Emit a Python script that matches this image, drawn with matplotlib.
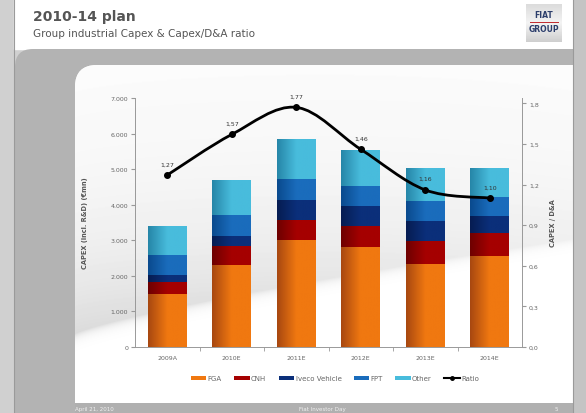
import numpy as np
import matplotlib
matplotlib.use("Agg")
import matplotlib.pyplot as plt
from matplotlib.patches import Rectangle, FancyBboxPatch, PathPatch, Patch
from matplotlib.path import Path
from matplotlib.lines import Line2D
from matplotlib.colors import LinearSegmentedColormap
from matplotlib.ticker import FuncFormatter, FixedLocator

# data (EUR mn)
years = ["2009A", "2010E", "2011E", "2012E", "2013E", "2014E"]
fga = [1490, 2300, 3010, 2810, 2330, 2560]
cnh = [330, 530, 560, 600, 640, 640]
iveco = [210, 280, 560, 550, 580, 470]
fpt = [560, 600, 590, 580, 560, 560]
other = [800, 990, 1130, 1010, 910, 790]
ratio = [1.27, 1.57, 1.77, 1.46, 1.16, 1.10]

series = [("FGA", fga, "#a84810", "#f07810"),
          ("CNH", cnh, "#6e0000", "#a50000"),
          ("Iveco Vehicle", iveco, "#061c52", "#0b2f7a"),
          ("FPT", fpt, "#0a4a8e", "#1a6cbc"),
          ("Other", other, "#2686a8", "#48bcdc")]

W, H = 586, 414
fig = plt.figure(figsize=(W / 100, H / 100), dpi=100)

# ---- slide background (pixel coords) ----
bg = fig.add_axes([0, 0, 1, 1], zorder=0)
bg.set_xlim(0, W)
bg.set_ylim(H, 0)
bg.axis("off")
bg.add_patch(Rectangle((0, 0), W, H, color="#d0d0d0"))
bg.add_patch(Rectangle((14, 0), 559, 50, color="white"))
bg.add_patch(FancyBboxPatch((15, 50), 600, 400, boxstyle="round,pad=0,rounding_size=18",
                            color="#b3b3b3", lw=0))
bg.add_patch(Rectangle((100, 50), 473, 364, color="#b3b3b3", lw=0))
panel = FancyBboxPatch((75, 66), 600, 400, boxstyle="round,pad=0,rounding_size=22",
                       color="white", lw=0)
bg.add_patch(panel)

# soft grey swoosh behind the chart
X, Y = np.meshgrid(np.arange(75, 573) + 0.5, np.arange(66, 404) + 0.5)
yb = 335 - 95 * ((X - 75) / 498) ** 0.8
d = yb - Y
k = 0.14 - 0.08 * (X - 75) / 498
dark = np.where(d > 0, k * np.exp(-d / 110), k * np.exp(d / 5))
shade = bg.imshow(1 - dark, extent=[75, 573, 404, 66], cmap="gray", vmin=0, vmax=1,
                  aspect="auto", interpolation="bilinear", zorder=1)
shade.set_clip_path(panel)

bg.add_patch(Rectangle((75, 404), 498, 10, color="#b0b0b0", lw=0, zorder=2))
bg.add_patch(Rectangle((573, 0), 13, H, color="#c4c4c4", lw=0, zorder=2))
bg.axvline(14, color="#9a9a9a", lw=0.8, zorder=2)
bg.axvline(573, color="#9a9a9a", lw=0.8, zorder=2)

# header
bg.text(33, 17, "2010-14 plan", fontsize=10, fontweight="bold", color="#555555", va="center")
bg.text(33, 34, "Group industrial Capex & Capex/D&A ratio", fontsize=7.5, color="#555555", va="center")
logo_grad = np.linspace(0, 1, 50).reshape(-1, 1) * np.ones((1, 10))
bg.imshow(logo_grad, extent=[526, 562, 43, 5],
          cmap=LinearSegmentedColormap.from_list("lg", ["#dcdcdc", "#f4f4f4", "#cfcfcf"]),
          aspect="auto", zorder=2)
bg.text(544, 16, "FIAT", fontsize=5.5, fontweight="bold", color="#2b3d6b", ha="center", va="center", zorder=3)
bg.plot([530, 558], [22.5, 22.5], color="#c0282d", lw=0.7, zorder=3)
bg.text(544, 30, "GROUP", fontsize=5.5, fontweight="bold", color="#2b3d6b", ha="center", va="center", zorder=3)

# footer
bg.text(75, 410, "April 21, 2010", fontsize=4, color="#f0f0f0", va="center", zorder=3)
bg.text(322, 410, "Fiat Investor Day", fontsize=4, color="#f0f0f0", va="center", ha="center", zorder=3)
bg.text(556, 410, "5", fontsize=4, color="#f0f0f0", va="center", ha="center", zorder=3)

# ---- chart ----
ax = fig.add_axes([135 / W, 1 - 348 / H, 387 / W, 249 / H], zorder=2)
ax.patch.set_alpha(0)
x = np.arange(len(years))
bottom = np.zeros(len(years))
handles = []
for name, vals, c0, c1 in series:
    bars = ax.bar(x, vals, 0.6, bottom=bottom, color=c1, lw=0, zorder=2)
    cmap = LinearSegmentedColormap.from_list(name, [c0, c1, c1])
    grad = np.linspace(0, 1, 64).reshape(1, -1)
    for b in bars:
        im = ax.imshow(grad, extent=[b.get_x(), b.get_x() + b.get_width(), b.get_y(), b.get_y() + b.get_height()],
                       cmap=cmap, aspect="auto", zorder=3)
        im.set_clip_path(b)
    bottom += np.array(vals)
    handles.append(Patch(facecolor=c1, edgecolor="none", label=name))

ax.set_xlim(-0.5, len(years) - 0.5)
ax.set_ylim(0, 7000)
ax.set_xticks(x)
ax.set_xticklabels(years)
ax.xaxis.set_minor_locator(FixedLocator(np.arange(0.5, len(years) - 0.5, 1)))
ax.tick_params(axis="x", which="major", length=0, pad=6, labelsize=4.5, labelcolor="#666666")
ax.tick_params(axis="x", which="minor", length=3, color="#999999", direction="out")
ax.set_yticks(np.arange(0, 7001, 1000))
ax.yaxis.set_major_formatter(FuncFormatter(lambda v, p: f"{int(v):,}".replace(",", ".")))
ax.tick_params(axis="y", length=3, color="#999999", labelsize=4.5, labelcolor="#666666", pad=2)
for s in ["top", "right"]:
    ax.spines[s].set_visible(False)
for s in ["left", "bottom"]:
    ax.spines[s].set_color("#999999")
    ax.spines[s].set_linewidth(0.7)
ax.set_ylabel("CAPEX (incl. R&D) (€mn)", fontsize=4.8, fontweight="bold", color="#555555", labelpad=16)

ax2 = ax.twinx()
ax2.set_ylim(0, 1.8 * 249 / 243.7)
ax2.set_yticks(np.arange(0, 1.81, 0.3))
ax2.yaxis.set_major_formatter(FuncFormatter(lambda v, p: f"{v:.1f}".replace(".", ",")))
ax2.tick_params(axis="y", length=3, color="#999999", labelsize=4.5, labelcolor="#666666", pad=2)
for s in ["top", "left", "bottom"]:
    ax2.spines[s].set_visible(False)
ax2.spines["right"].set_color("#999999")
ax2.spines["right"].set_linewidth(0.7)
ax2.set_ylabel("CAPEX / D&A", fontsize=4.8, fontweight="bold", color="#555555", labelpad=8)

# smooth ratio line (Catmull-Rom through the points)
pts = np.column_stack([x, ratio]).astype(float)
ext = np.vstack([pts[0], pts, pts[-1]])
verts = [tuple(pts[0])]
codes = [Path.MOVETO]
for i in range(len(pts) - 1):
    p0, p1, p2, p3 = ext[i], ext[i + 1], ext[i + 2], ext[i + 3]
    verts += [tuple(p1 + (p2 - p0) / 6), tuple(p2 - (p3 - p1) / 6), tuple(p2)]
    codes += [Path.CURVE4] * 3
ax2.add_patch(PathPatch(Path(verts, codes), facecolor="none", edgecolor="black", lw=2, zorder=5))
ax2.plot(x, ratio, "o", color="black", ms=4, zorder=6)
for xi, r in zip(x, ratio):
    ax2.annotate(f"{r:.2f}".replace(".", ","), (xi, r), xytext=(0, 7), textcoords="offset points",
                 ha="center", fontsize=4.5, color="#333333")

handles.append(Line2D([], [], color="black", lw=1.5, marker="o", ms=2.5, label="Ratio"))
fig.legend(handles=handles, loc="center", bbox_to_anchor=(335 / W, 1 - 379 / H), ncol=6, frameon=False,
           fontsize=5, labelcolor="#666666", handlelength=2.2, handleheight=0.5, handletextpad=0.2,
           columnspacing=1.8)

fig.savefig("out.png", dpi=100)
